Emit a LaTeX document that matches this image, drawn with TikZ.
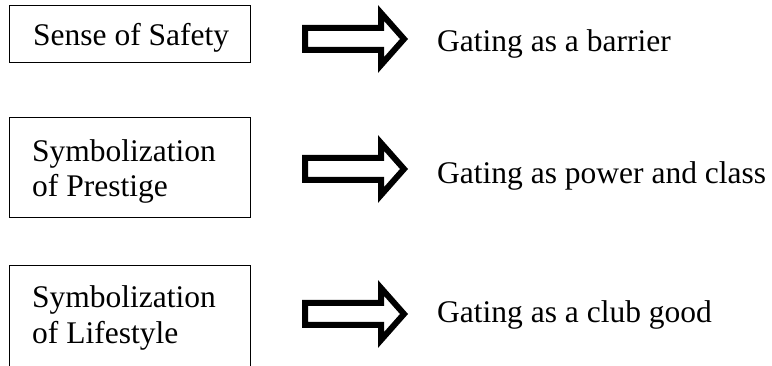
\documentclass[tikz,border=0pt]{standalone}
\usepackage{fontspec}
\setmainfont{Liberation Serif}
\begin{document}
\begin{tikzpicture}[x=1pt,y=-1pt,
  label/.style={anchor=base west,inner sep=0pt,font=\fontsize{31.5}{36}\selectfont},
  factorbox/.style={draw,line width=1pt},
  fatarrow/.style={draw,line width=6pt,line join=miter,miter limit=10}]
\useasboundingbox (0,0) rectangle (772,366);
\clip (0,0) rectangle (772,366);

% left-hand boxes
\draw[factorbox] (9.5,5.5) rectangle (250,63) coordinate (boxA);
\draw[factorbox] (9.5,117.5) rectangle (250,218) coordinate (boxB);
\draw[factorbox] (9.5,265.5) rectangle (250,400) coordinate (boxC);

\node[label] (safety) at (33,46) {Sense of Safety};
\node[label] (prestigeA) at (32,162) {Symbolization};
\node[label] (prestigeB) at (32,197) {of Prestige};
\node[label] (lifestyleA) at (32,308) {Symbolization};
\node[label] (lifestyleB) at (32,344) {of Lifestyle};

% hollow block arrows
\foreach \c in {39,169,314}{
  \draw[fatarrow] (305,\c-11) -- (381,\c-11) -- (381,\c-26) -- (404,\c)
    -- (381,\c+26) -- (381,\c+11) -- (305,\c+11) -- cycle;
}

% right-hand outcomes
\node[label] (barrier) at (437,52) {Gating as a barrier};
\node[label] (power) at (437,184) {Gating as power and class};
\node[label] (club) at (437,323) {Gating as a club good};
\end{tikzpicture}
\end{document}
